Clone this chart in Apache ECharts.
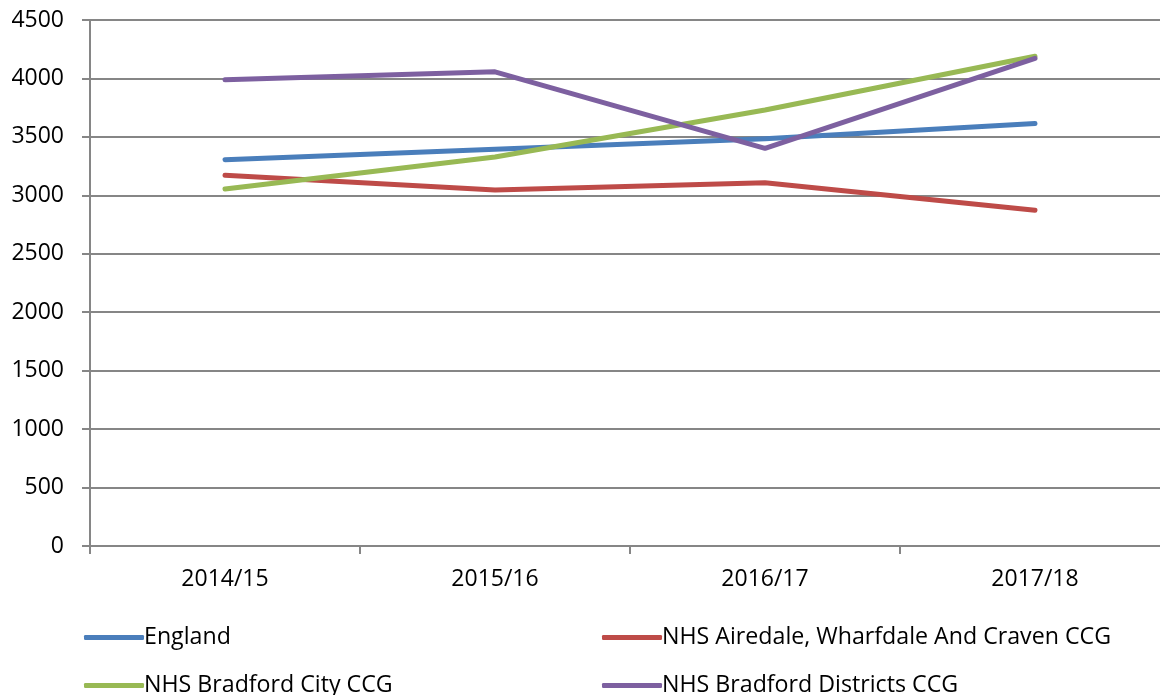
<!DOCTYPE html>
<html>
<head>
<meta charset="utf-8">
<script src="https://cdn.jsdelivr.net/npm/echarts@6/dist/echarts.min.js"></script>
<style>
  html, body { margin: 0; padding: 0; background: #fff; }
  #chart { width: 1160px; height: 695px; }
</style>
</head>
<body>
<div id="chart"></div>
<script>
// values
var years = ['2014/15', '2015/16', '2016/17', '2017/18']
var england = [3305, 3395, 3485, 3615]
var airedale = [3172, 3045, 3108, 2872]
var bradfordCity = [3055, 3328, 3730, 4190]
var bradfordDistricts = [3988, 4057, 3402, 4172]

var names = ['England', 'NHS Airedale, Wharfdale And Craven CCG', 'NHS Bradford City CCG', 'NHS Bradford Districts CCG']
var colors = ['#4a7ebb', '#be4b48', '#98b954', '#7d60a0']
var data = [england, airedale, bradfordCity, bradfordDistricts]

var font = '"Open Sans", "Noto Sans", sans-serif'
var grey = '#868686'

// legend slots: two columns, two rows
var legendPos = [
  { left: 84, top: 626 },
  { left: 602, top: 626 },
  { left: 84, top: 674 },
  { left: 602, top: 674 }
]

var chart = echarts.init(document.getElementById('chart'))

chart.setOption({
  animation: false,
  color: colors,
  grid: { left: 90, top: 20, width: 1080, height: 526, outerBoundsMode: 'none', containLabel: false },
  legend: names.map(function (n, i) {
    return {
      data: [n],
      left: legendPos[i].left,
      top: legendPos[i].top,
      icon: 'roundRect',
      itemWidth: 60,
      itemHeight: 5,
      itemGap: 0,
      padding: 0,
      textStyle: { color: '#000', fontSize: 23.2, fontFamily: font, padding: [0, 0, 0, -5] }
    }
  }),
  xAxis: {
    type: 'category',
    data: years,
    boundaryGap: true,
    axisLine: { lineStyle: { color: grey, width: 2 } },
    axisTick: { show: true, length: 8, lineStyle: { color: grey, width: 2 } },
    axisLabel: { color: '#000', fontSize: 23, fontFamily: font, margin: 22 }
  },
  yAxis: {
    type: 'value',
    min: 0,
    max: 4500,
    interval: 500,
    axisLine: { show: true, lineStyle: { color: grey, width: 2 } },
    axisTick: { show: true, length: 8, lineStyle: { color: grey, width: 2 } },
    axisLabel: {
      color: '#000', fontSize: 23, fontFamily: font, margin: 26,
      formatter: function (v) { return String(v) }
    },
    splitLine: { lineStyle: { color: grey, width: 2 } }
  },
  series: names.map(function (n, i) {
    return {
      name: n,
      type: 'line',
      data: data[i],
      symbol: 'none',
      lineStyle: { width: 5, cap: 'round', join: 'round' }
    }
  })
})
</script>
</body>
</html>
